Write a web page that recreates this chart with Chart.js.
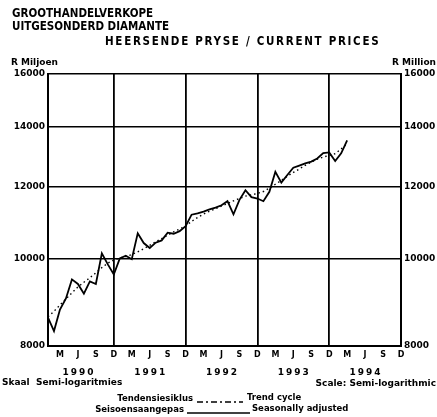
<!DOCTYPE html>
<html>
<head>
<meta charset="utf-8">
<script src="https://cdn.jsdelivr.net/npm/chart.js@4.4.0/dist/chart.umd.min.js"></script>
<style>
  html, body { margin: 0; padding: 0; background: #fff; }
  #wrap { width: 437px; height: 417px; }
</style>
</head>
<body>
<div id="wrap"><canvas id="c" width="437" height="417"></canvas></div>
<script>
// --- DATA: maandelikse reekse, Jan 1990 (indeks 0) tot Mrt 1994 ---
const startYear = 1990;
const years = [1990, 1991, 1992, 1993, 1994];
const tickMonths = [2, 5, 8, 11];          // Mrt, Jun, Sep, Des
const tickLetters = ['M', 'J', 'S', 'D'];
const yTicks = [8000, 10000, 12000, 14000, 16000];

// Seisoensaangepas / Seasonally adjusted (R miljoen)
const seasonal = [
  8600, 8310, 8780, 9030, 9480, 9370, 9140, 9430, 9370, 10130,
  9850, 9600, 10000, 10070, 9980, 10660, 10400, 10270, 10410, 10470,
  10680, 10650, 10720, 10860, 11180, 11220, 11270, 11330, 11380, 11450,
  11570, 11190, 11610, 11900, 11690, 11650, 11570, 11850, 12470, 12130,
  12370, 12600, 12670, 12740, 12800, 12900, 13080, 13100, 12820, 13070,
  13510
];

// Tendensiesiklus / Trend cycle
const trend = [
  8620, 8740, 8880, 9020, 9160, 9300, 9410, 9520, 9640, 9770,
  9880, 9960, 10010, 10050, 10100, 10170, 10250, 10340, 10430, 10520,
  10610, 10700, 10780, 10860, 10990, 11100, 11200, 11280, 11350, 11430,
  11500, 11580, 11650, 11720, 11760, 11800, 11860, 11960, 12080, 12200,
  12330, 12450, 12560, 12680, 12780, 12880, 12950, 13000, 13060, 13220,
  13400
];

const lastMonth = years.length * 12 - 1; // Des 1994

const toPoints = arr => arr.map((v, i) => ({ x: i, y: v }));

const FONT = '"DejaVu Sans", "Liberation Sans", Arial, sans-serif';
const NARROW = '"Liberation Sans Narrow", "DejaVu Sans Condensed", "Liberation Sans", Arial, sans-serif';

// --- Teks rondom die grafiek ---
const textPlugin = {
  id: 'texts',
  afterDraw(chart) {
    const ctx = chart.ctx;
    const x = chart.scales.x;
    const spacing = px => { if ('letterSpacing' in ctx) ctx.letterSpacing = px; };
    ctx.save();
    ctx.fillStyle = '#000';
    ctx.textBaseline = 'middle';

    // titel
    ctx.font = 'bold 11.5px ' + NARROW;
    ctx.textAlign = 'left';
    ctx.fillText('GROOTHANDELVERKOPE', 12, 14);
    ctx.fillText('UITGESONDERD DIAMANTE', 12, 27);
    spacing('1.7px');
    ctx.fillText('HEERSENDE PRYSE / CURRENT PRICES', 105, 42);
    spacing('0px');

    // eenhede
    ctx.font = 'bold 9px ' + FONT;
    ctx.fillText('R Miljoen', 11, 63);
    ctx.textAlign = 'right';
    ctx.fillText('R Million', 436, 63);

    // jare onder die as
    ctx.font = 'bold 9px ' + FONT;
    ctx.textAlign = 'center';
    spacing('2px');
    years.forEach((yr, i) => {
      ctx.fillText(String(yr), x.getPixelForValue(i * 12 + 5) + 1, 373);
    });
    spacing('0px');

    // skaal
    ctx.font = 'bold 9px ' + FONT;
    ctx.textAlign = 'left';
    ctx.fillText('Skaal  Semi-logaritmies', 2, 383);
    ctx.textAlign = 'right';
    ctx.fillText('Scale: Semi-logarithmic', 436, 384);

    // legende
    ctx.font = 'bold 8.5px ' + FONT;
    ctx.fillText('Tendensiesiklus', 193, 399);
    ctx.fillText('Seisoensaangepas', 184, 410);
    ctx.textAlign = 'left';
    ctx.fillText('Trend cycle', 247, 398);
    ctx.fillText('Seasonally adjusted', 252, 409);

    ctx.strokeStyle = '#000';
    ctx.lineWidth = 1.3;
    ctx.setLineDash([6, 3, 2, 3]);
    ctx.beginPath(); ctx.moveTo(197, 402); ctx.lineTo(243, 402); ctx.stroke();
    ctx.setLineDash([]);
    ctx.beginPath(); ctx.moveTo(187, 413); ctx.lineTo(250, 413); ctx.stroke();
    ctx.restore();
  }
};

const yAxisBase = {
  type: 'logarithmic',
  min: 8000,
  max: 16000,
  afterBuildTicks: s => { s.ticks = yTicks.map(v => ({ value: v })); },
  ticks: {
    callback: v => String(v),
    color: '#000',
    font: { family: FONT, size: 9, weight: 'bold' },
    padding: 3
  },
  border: { display: true, color: '#000', width: 2 }
};

new Chart(document.getElementById('c'), {
  type: 'line',
  data: {
    datasets: [
      {
        label: 'Seasonally adjusted',
        data: toPoints(seasonal),
        borderColor: '#000',
        borderWidth: 1.8,
        pointRadius: 0,
        tension: 0
      },
      {
        label: 'Trend cycle',
        data: toPoints(trend),
        borderColor: '#000',
        borderWidth: 1.4,
        borderDash: [1.5, 3],
        pointRadius: 0,
        tension: 0
      }
    ]
  },
  options: {
    responsive: false,
    animation: false,
    devicePixelRatio: 1,
    layout: { padding: { top: 74, left: 0, right: 0, bottom: 0 } },
    plugins: { legend: { display: false }, tooltip: { enabled: false }, title: { display: false } },
    scales: {
      x: {
        type: 'linear',
        position: 'bottom',
        min: 0,
        max: lastMonth,
        afterBuildTicks: s => {
          const t = [];
          years.forEach((yr, i) => tickMonths.forEach(m => t.push({ value: i * 12 + m })));
          s.ticks = t;
        },
        afterFit: s => { s.height = 71; },
        ticks: {
          callback: v => tickLetters[tickMonths.indexOf(v % 12)],
          autoSkip: false,
          maxRotation: 0,
          color: '#000',
          font: { family: FONT, size: 8, weight: 'bold' },
          padding: 4
        },
        grid: {
          color: c => (c.tick && c.tick.value % 12 === 11 ? '#000' : 'rgba(0,0,0,0)'),
          lineWidth: 1.8,
          drawTicks: false
        },
        border: { display: true, color: '#000', width: 2 }
      },
      y: Object.assign({}, yAxisBase, {
        position: 'left',
        afterFit: s => { s.width = 48; },
        grid: { color: '#000', lineWidth: 1.6, drawTicks: false }
      }),
      y2: Object.assign({}, yAxisBase, {
        position: 'right',
        afterFit: s => { s.width = 36; },
        grid: { display: false, drawTicks: false }
      })
    }
  },
  plugins: [textPlugin]
});
</script>
</body>
</html>
